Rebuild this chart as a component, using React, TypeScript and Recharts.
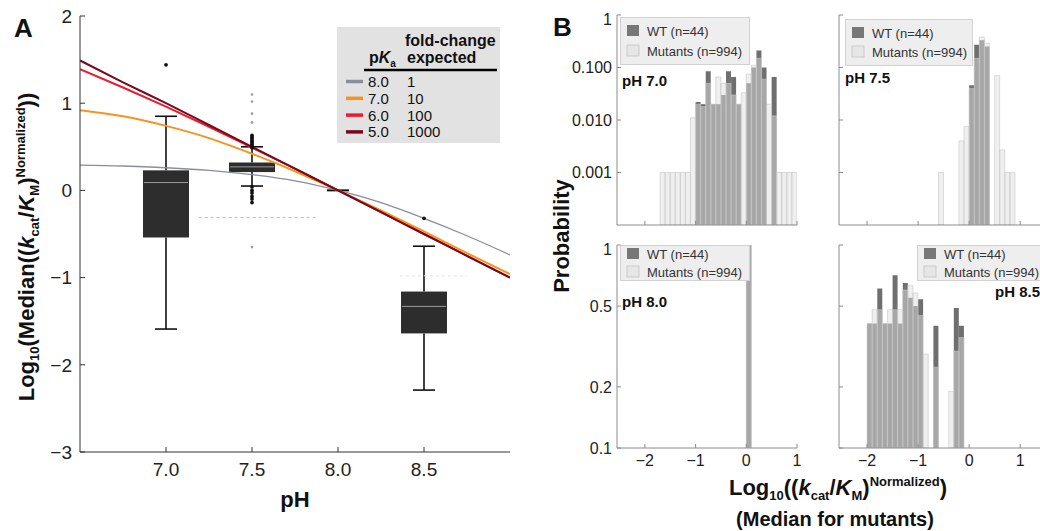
import React from "react"
import {
  ComposedChart,
  BarChart,
  Bar,
  Line,
  Scatter,
  XAxis,
  YAxis,
  ReferenceLine,
  Legend,
} from "recharts"

const FONT = "'Liberation Sans', Arial, Helvetica, sans-serif"

// ---------- Panel A: model curves ----------
const CURVE_PH = [6.5, 6.75, 7.0, 7.25, 7.5, 7.75, 8.0, 8.25, 8.5, 8.75, 9.0]
const PKA_8 = [0.29, 0.28, 0.26, 0.23, 0.18, 0.11, 0, -0.14, -0.32, -0.52, -0.74]
const PKA_7 = [0.92, 0.85, 0.74, 0.6, 0.42, 0.22, 0, -0.23, -0.47, -0.72, -0.96]
const PKA_6 = [1.39, 1.18, 0.96, 0.73, 0.49, 0.25, 0, -0.25, -0.5, -0.75, -1.0]
const PKA_5 = [1.49, 1.24, 1.0, 0.75, 0.5, 0.25, 0, -0.25, -0.5, -0.75, -1.0]

const MODEL_KEYS = ["pka8", "pka7", "pka6", "pka5"]
const MODEL_PKA = ["8.0", "7.0", "6.0", "5.0"]
const MODEL_FOLD = ["1", "10", "100", "1000"]
const MODEL_COLORS = ["#8a8d9c", "#f7941d", "#ec1c2e", "#740a1c"]
const MODEL_WIDTHS = [1.3, 2, 2, 2]

// ---------- Panel A: box plots ----------
const BOX_PH = [7.0, 7.5, 8.0, 8.5]
const BOX_Q1 = [-0.54, 0.21, 0, -1.64]
const BOX_Q3 = [0.23, 0.32, 0, -1.16]
const BOX_MEDIAN = [0.09, 0.27, null, -1.33]
const WHISKER_LOW = [-1.59, 0.05, 0, -2.29]
const WHISKER_HIGH = [0.85, 0.5, 0, -0.64]

const OUTLIER_PH = [7.0, 7.5, 7.5, 7.5, 7.5, 7.5, 7.5, 7.5, 7.5, 7.5, 7.5, 7.5, 7.5, 7.5, 7.5, 8.5]
const OUTLIER_V = [1.44, 0.63, 0.61, 0.59, 0.57, 0.55, 0.53, 0.51, 0.49, 0.04, 0.0, -0.03, -0.07, -0.1, -0.14, -0.32]
const FAINT_PH = [7.5, 7.5, 7.5, 7.5, 7.5]
const FAINT_V = [1.1, 1.02, 0.88, 0.78, -0.65]

const DASH_X1 = [7.19, 8.36]
const DASH_X2 = [7.88, 8.75]
const DASH_Y = [-0.31, -0.98]

// ---------- Panel B: histograms ----------
const BIN_CENTERS = [
  -2.45, -2.35, -2.25, -2.15, -2.05, -1.95, -1.85, -1.75, -1.65, -1.55,
  -1.45, -1.35, -1.25, -1.15, -1.05, -0.95, -0.85, -0.75, -0.65, -0.55,
  -0.45, -0.35, -0.25, -0.15, -0.05, 0.05, 0.15, 0.25, 0.35, 0.45,
  0.55, 0.65, 0.75, 0.85, 0.95, 1.05, 1.15, 1.25, 1.35, 1.45,
]

const PH70_BINS = [-1.65, -1.55, -1.45, -1.35, -1.25, -1.15, -1.05, -0.95, -0.85, -0.75, -0.65, -0.55, -0.45, -0.35, -0.25, -0.15, -0.05, 0.05, 0.15, 0.25, 0.35, 0.45, 0.55, 0.65, 0.75, 0.85, 0.95]
const PH70_WT = [0, 0, 0, 0, 0, 0, 0, 0.022, 0.02, 0.085, 0.02, 0.02, 0.03, 0.085, 0.066, 0.02, 0, 0.05, 0.1, 0.21, 0.1, 0, 0.066, 0, 0, 0, 0]
const PH70_MUT = [0.001, 0.001, 0.001, 0.001, 0.001, 0.001, 0.011, 0.02, 0.018, 0.05, 0.02, 0.066, 0.05, 0.05, 0.03, 0.02, 0.033, 0.075, 0.11, 0.15, 0.06, 0.02, 0.012, 0.001, 0.001, 0.001, 0.001]

const PH75_BINS = [-0.55, -0.15, -0.05, 0.05, 0.15, 0.25, 0.35, 0.55, 0.65, 0.75, 0.85]
const PH75_WT = [0, 0, 0, 0.046, 0.27, 0.33, 0.25, 0, 0, 0, 0]
const PH75_MUT = [0.001, 0.004, 0.0075, 0.04, 0.15, 0.38, 0.29, 0.07, 0.0027, 0.001, 0.001]

const PH80_BINS = [0.05]
const PH80_WT = [1]
const PH80_MUT = [1]

const PH85_BINS = [-1.95, -1.85, -1.75, -1.65, -1.55, -1.45, -1.35, -1.25, -1.15, -1.05, -0.95, -0.85, -0.65, -0.35, -0.25, -0.15]
const PH85_WT = [0.41, 0.41, 0.61, 0.41, 0.41, 0.71, 0.41, 0.65, 0.55, 0.5, 0.54, 0, 0.4, 0, 0.49, 0.4]
const PH85_MUT = [0.41, 0.48, 0.48, 0.41, 0.48, 0.48, 0.48, 0.6, 0.63, 0.58, 0.45, 0.29, 0.25, 0.19, 0.3, 0.35]

const X_TICKS_B = [-2, -1, 0, 1]
const TOP_TICKS_B = [-2.5, -2, -1.5, -1, -0.5, 0, 0.5, 1, 1.5]
const LOG_TICKS_TOP = [0.001, 0.01, 0.1, 1]
const LOG_TICKS_BOTTOM = [0.1, 0.2, 0.5, 1]

// ---------- tables ----------
const curveTable = CURVE_PH.map((ph, i) => ({
  ph,
  pka8: PKA_8[i],
  pka7: PKA_7[i],
  pka6: PKA_6[i],
  pka5: PKA_5[i],
}))

const boxTable = BOX_PH.map((ph, i) => ({
  ph,
  box: [BOX_Q1[i], BOX_Q3[i]],
  lower: [WHISKER_LOW[i], BOX_Q1[i]],
  upper: [BOX_Q3[i], WHISKER_HIGH[i]],
  median: BOX_MEDIAN[i] == null ? null : [BOX_MEDIAN[i], BOX_MEDIAN[i]],
}))

const outlierTable = OUTLIER_PH.map((ph, i) => ({ ph, v: OUTLIER_V[i] }))
const faintTable = FAINT_PH.map((ph, i) => ({ ph, v: FAINT_V[i] }))

function buildRows(bins: number[], wt: number[], mut: number[]) {
  return BIN_CENTERS.map((b) => {
    const i = bins.findIndex((x) => Math.abs(x - b) < 1e-6)
    return {
      bin: b,
      wt: i >= 0 && wt[i] > 0 ? wt[i] : null,
      mut: i >= 0 && mut[i] > 0 ? mut[i] : null,
    }
  })
}

// ---------- shapes ----------
const CAP_W = 22

function BoxShape(p: any) {
  const top = Math.min(p.y, p.y + p.height)
  const h = Math.abs(p.height)
  if (!h) return <g />
  return <rect x={p.x} y={top} width={p.width} height={h} fill="#2d2d2d" />
}

function LowerWhisker(p: any) {
  const cx = p.x + p.width / 2
  const top = Math.min(p.y, p.y + p.height)
  const bottom = Math.max(p.y, p.y + p.height)
  return (
    <g stroke="#111" strokeWidth={1.6}>
      <line x1={cx} x2={cx} y1={top} y2={bottom} />
      <line x1={cx - CAP_W / 2} x2={cx + CAP_W / 2} y1={bottom} y2={bottom} />
    </g>
  )
}

function UpperWhisker(p: any) {
  const cx = p.x + p.width / 2
  const top = Math.min(p.y, p.y + p.height)
  const bottom = Math.max(p.y, p.y + p.height)
  return (
    <g stroke="#111" strokeWidth={1.6}>
      <line x1={cx} x2={cx} y1={top} y2={bottom} />
      <line x1={cx - CAP_W / 2} x2={cx + CAP_W / 2} y1={top} y2={top} />
    </g>
  )
}

function MedianShape(p: any) {
  const y = p.y + p.height / 2
  return <line x1={p.x + 1} x2={p.x + p.width - 1} y1={y} y2={y} stroke="#9c9c9c" strokeWidth={1} />
}

function ModelLegend() {
  return (
    <svg width={163} height={116} style={{ display: "block", fontFamily: FONT }}>
      <rect x={0} y={0} width={163} height={116} fill="#e2e2e2" />
      <text x={68} y={19} fontSize={16} fontWeight="bold" fill="#111">fold-change</text>
      <text x={70} y={36} fontSize={16} fontWeight="bold" fill="#111">expected</text>
      <text x={32} y={36} fontSize={16} fontWeight="bold" fill="#111">
        p<tspan fontStyle="italic">K</tspan>
        <tspan fontSize={10} dy={4}>a</tspan>
      </text>
      <line x1={27} x2={160} y1={43} y2={43} stroke="#000" strokeWidth={2.5} />
      {MODEL_PKA.map((pk, i) => {
        const base = 60 + i * 16.8
        return (
          <g key={pk}>
            <line x1={9} x2={26} y1={base - 5.5} y2={base - 5.5} stroke={MODEL_COLORS[i]} strokeWidth={3.5} />
            <text x={31} y={base} fontSize={15} fill="#111">{pk}</text>
            <text x={70} y={base} fontSize={15} fill="#111">{MODEL_FOLD[i]}</text>
          </g>
        )
      })}
    </svg>
  )
}

function HistLegend({ w, h, rowGap }: { w: number; h: number; rowGap: number }) {
  const r1 = (h - rowGap) / 2
  return (
    <svg width={w} height={h} style={{ display: "block", fontFamily: FONT }}>
      <rect x={0.5} y={0.5} width={w - 1} height={h - 1} fill="#eeeeee" stroke="#d2d2d2" />
      <rect x={7} y={r1 - 6} width={12} height={11} fill="#777" />
      <rect x={7} y={r1 + rowGap - 6} width={12} height={11} fill="#e6e6e6" stroke="#c2c2c2" strokeWidth={0.8} />
      <text x={27} y={r1 + 4.5} fontSize={13} fill="#333">WT (n=44)</text>
      <text x={27} y={r1 + rowGap + 4.5} fontSize={13} fill="#333">Mutants (n=994)</text>
    </svg>
  )
}

// ---------- Panel A ----------
function PanelA() {
  const axisTick = { fontSize: 19, fill: "#222", fontFamily: FONT }
  return (
    <div style={{ position: "absolute", left: 0, top: 0 }}>
      <ComposedChart
        width={530}
        height={531}
        data={boxTable}
        margin={{ top: 16, right: 20, bottom: 49, left: 50 }}
        barGap={-46}
      >
        <XAxis
          xAxisId="box"
          type="number"
          dataKey="ph"
          domain={[6.5, 9]}
          allowDataOverflow
          ticks={[7, 7.5, 8, 8.5]}
          tickFormatter={(v: number) => v.toFixed(1)}
          tickSize={-5}
          tickMargin={16}
          height={30}
          stroke="#333"
          tick={axisTick}
        />
        <XAxis xAxisId="curve" type="number" dataKey="ph" domain={[6.5, 9]} allowDataOverflow hide />
        <XAxis
          xAxisId="top"
          orientation="top"
          type="number"
          domain={[6.5, 9]}
          allowDataOverflow
          ticks={[7, 7.5, 8, 8.5]}
          tickSize={-5}
          height={0}
          tickFormatter={() => ""}
          stroke="#9a9a9a"
        />
        <YAxis
          yAxisId="v"
          type="number"
          dataKey="v"
          domain={[-3, 2]}
          allowDataOverflow
          ticks={[-3, -2, -1, 0, 1, 2]}
          tickFormatter={(v: number) => (v < 0 ? `\u2212${-v}` : `${v}`)}
          width={30}
          tickSize={-5}
          tickMargin={13}
          stroke="#333"
          tick={axisTick}
        />
        <YAxis
          yAxisId="right"
          orientation="right"
          type="number"
          domain={[-3, 2]}
          allowDataOverflow
          ticks={[-3, -2.5, -2, -1.5, -1, -0.5, 0, 0.5, 1, 1.5, 2]}
          tickFormatter={() => ""}
          width={0}
          tickSize={-4}
          stroke="#9a9a9a"
        />
        {DASH_Y.map((y, i) => (
          <ReferenceLine
            key={i}
            xAxisId="curve"
            yAxisId="v"
            segment={[
              { x: DASH_X1[i], y },
              { x: DASH_X2[i], y },
            ]}
            stroke={i === 0 ? "#bdbdbd" : "#e2e2e2"}
            strokeDasharray="3 3"
          />
        ))}
        <Bar xAxisId="box" yAxisId="v" dataKey="lower" barSize={46} shape={LowerWhisker} isAnimationActive={false} />
        <Bar xAxisId="box" yAxisId="v" dataKey="upper" barSize={46} shape={UpperWhisker} isAnimationActive={false} />
        <Bar xAxisId="box" yAxisId="v" dataKey="box" barSize={46} shape={BoxShape} isAnimationActive={false} />
        <Bar xAxisId="box" yAxisId="v" dataKey="median" barSize={46} shape={MedianShape} isAnimationActive={false} />
        {MODEL_KEYS.map((k, i) => (
          <Line
            key={k}
            xAxisId="curve"
            yAxisId="v"
            data={curveTable}
            dataKey={k}
            type="monotone"
            stroke={MODEL_COLORS[i]}
            strokeWidth={MODEL_WIDTHS[i]}
            dot={false}
            isAnimationActive={false}
          />
        ))}
        <Scatter
          xAxisId="curve"
          yAxisId="v"
          data={faintTable}
          dataKey="v"
          shape={(p: any) => <circle cx={p.cx} cy={p.cy} r={1.3} fill="#9a9a9a" />}
          isAnimationActive={false}
        />
        <Scatter
          xAxisId="curve"
          yAxisId="v"
          data={outlierTable}
          dataKey="v"
          shape={(p: any) => <circle cx={p.cx} cy={p.cy} r={1.9} fill="#111" />}
          isAnimationActive={false}
        />
        <Legend
          layout="horizontal"
          verticalAlign="middle"
          align="center"
          wrapperStyle={{ left: 337, top: 27, width: 163, height: 116 }}
          content={() => <ModelLegend />}
        />
      </ComposedChart>
    </div>
  )
}

// ---------- Panel B ----------
type HistProps = {
  plotLeft: number
  plotTop: number
  plotW: number
  plotH: number
  xMax: number
  rows: any[]
  logTicks: number[]
  yMin: number
  showX: boolean
  showY: boolean
  legendX: number
  legendY: number
  legendW: number
  legendH: number
  rowGap: number
}

function Histogram(p: HistProps) {
  const chartLeft = p.plotLeft - 50
  const chartTop = p.plotTop - 5
  const tick = { fontSize: 16, fill: "#222", fontFamily: FONT }
  const yFmt = (v: number) => {
    if (!p.showY) return ""
    if (v >= 1) return "1"
    return p.yMin < 0.01 ? v.toFixed(3) : `${v}`
  }
  const xFmt = (v: number) => (!p.showX ? "" : v < 0 ? `\u2212${-v}` : `${v}`)
  return (
    <div style={{ position: "absolute", left: chartLeft, top: chartTop }}>
      <BarChart
        width={p.plotW + 55}
        height={p.plotH + 35}
        data={p.rows}
        margin={{ top: 5, right: 5, bottom: 0, left: 0 }}
        barGap={-5}
      >
        <XAxis
          type="number"
          dataKey="bin"
          domain={[-2.55, p.xMax]}
          allowDataOverflow
          ticks={X_TICKS_B}
          tickFormatter={xFmt}
          tickSize={-4}
          tickMargin={11}
          height={30}
          stroke="#8c8c8c"
          tick={tick}
        />
        <XAxis
          xAxisId="top"
          orientation="top"
          type="number"
          domain={[-2.55, p.xMax]}
          allowDataOverflow
          ticks={TOP_TICKS_B}
          tickFormatter={() => ""}
          tickSize={-3}
          height={0}
          stroke="#8c8c8c"
        />
        <YAxis
          type="number"
          scale="log"
          domain={[p.yMin, 1]}
          allowDataOverflow
          ticks={p.logTicks}
          tickFormatter={yFmt}
          width={50}
          tickSize={-4}
          tickMargin={9}
          stroke="#8c8c8c"
          tick={tick}
        />
        <YAxis
          yAxisId="right"
          orientation="right"
          type="number"
          scale="log"
          domain={[p.yMin, 1]}
          allowDataOverflow
          ticks={p.logTicks}
          tickFormatter={() => ""}
          width={0}
          tickSize={-3}
          stroke="#8c8c8c"
        />
        <Bar dataKey="wt" barSize={5} fill="#6f6f6f" isAnimationActive={false} />
        <Bar
          dataKey="mut"
          barSize={5}
          fill="#e0e0e0"
          fillOpacity={0.5}
          stroke="#c6c6c6"
          strokeWidth={0.6}
          isAnimationActive={false}
        />
        <Legend
          layout="horizontal"
          verticalAlign="middle"
          align="center"
          wrapperStyle={{
            left: p.legendX - chartLeft,
            top: p.legendY - chartTop,
            width: p.legendW,
            height: p.legendH,
          }}
          content={() => <HistLegend w={p.legendW} h={p.legendH} rowGap={p.rowGap} />}
        />
      </BarChart>
    </div>
  )
}

function Labels() {
  const t = { fontFamily: FONT, fill: "#111", fontWeight: "bold" as const }
  return (
    <svg
      width={1040}
      height={531}
      style={{ position: "absolute", left: 0, top: 0, pointerEvents: "none" }}
    >
      <text x={14} y={37} fontSize={26} {...t}>A</text>
      <text x={553} y={36} fontSize={26} {...t}>B</text>
      <text transform="translate(34,247) rotate(-90)" textAnchor="middle" fontSize={22} {...t}>
        Log<tspan fontSize={13} dy={5}>10</tspan>
        <tspan dy={-5}>(Median((</tspan>
        <tspan fontStyle="italic">k</tspan>
        <tspan fontSize={13} dy={5}>cat</tspan>
        <tspan dy={-5}>/</tspan>
        <tspan fontStyle="italic">K</tspan>
        <tspan fontSize={13} dy={5}>M</tspan>
        <tspan dy={-5}>)</tspan>
        <tspan fontSize={13} dy={-9}>Normalized</tspan>
        <tspan dy={9}>))</tspan>
      </text>
      <text x={295} y={507} textAnchor="middle" fontSize={22} {...t}>pH</text>
      <text transform="translate(569,236) rotate(-90)" textAnchor="middle" fontSize={22} {...t}>
        Probability
      </text>
      <text x={838} y={495} textAnchor="middle" fontSize={22} {...t}>
        Log<tspan fontSize={13} dy={5}>10</tspan>
        <tspan dy={-5}>((</tspan>
        <tspan fontStyle="italic">k</tspan>
        <tspan fontSize={13} dy={5}>cat</tspan>
        <tspan dy={-5}>/</tspan>
        <tspan fontStyle="italic">K</tspan>
        <tspan fontSize={13} dy={5}>M</tspan>
        <tspan dy={-5}>)</tspan>
        <tspan fontSize={13} dy={-9}>Normalized</tspan>
        <tspan dy={9}>)</tspan>
      </text>
      <text x={835} y={526} textAnchor="middle" fontSize={20} {...t}>(Median for mutants)</text>
      <text x={622} y={86} fontSize={15} {...t}>pH 7.0</text>
      <text x={845} y={83} fontSize={15} {...t}>pH 7.5</text>
      <text x={622} y={307} fontSize={15} {...t}>pH 8.0</text>
      <text x={995} y={297} fontSize={15} {...t}>pH 8.5</text>
    </svg>
  )
}

export default function App() {
  return (
    <div
      style={{
        position: "fixed",
        left: 0,
        top: 0,
        width: 1040,
        height: 531,
        overflow: "hidden",
        background: "#fff",
        fontFamily: FONT,
      }}
    >
      <PanelA />
      <Histogram
        plotLeft={617} plotTop={15} plotW={180} plotH={210} xMax={1.0}
        rows={buildRows(PH70_BINS, PH70_WT, PH70_MUT)}
        logTicks={LOG_TICKS_TOP} yMin={0.0001} showX={false} showY
        legendX={620} legendY={17} legendW={130} legendH={48} rowGap={20}
      />
      <Histogram
        plotLeft={839} plotTop={15} plotW={222} plotH={210} xMax={1.8}
        rows={buildRows(PH75_BINS, PH75_WT, PH75_MUT)}
        logTicks={LOG_TICKS_TOP} yMin={0.0001} showX={false} showY={false}
        legendX={845} legendY={19} legendW={128} legendH={47} rowGap={19}
      />
      <Histogram
        plotLeft={617} plotTop={245} plotW={180} plotH={203} xMax={1.0}
        rows={buildRows(PH80_BINS, PH80_WT, PH80_MUT)}
        logTicks={LOG_TICKS_BOTTOM} yMin={0.1} showX showY
        legendX={620} legendY={245} legendW={130} legendH={36} rowGap={18}
      />
      <Histogram
        plotLeft={839} plotTop={245} plotW={222} plotH={203} xMax={1.8}
        rows={buildRows(PH85_BINS, PH85_WT, PH85_MUT)}
        logTicks={LOG_TICKS_BOTTOM} yMin={0.1} showX showY={false}
        legendX={917} legendY={245} legendW={130} legendH={36} rowGap={18}
      />
      <Labels />
    </div>
  )
}
